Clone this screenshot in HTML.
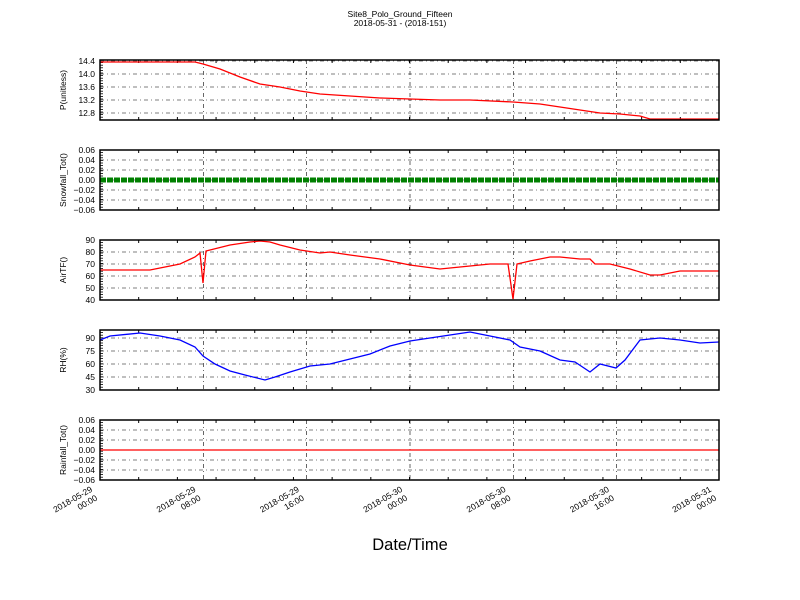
<!DOCTYPE html>
<html><head><meta charset="utf-8"><style>body{margin:0;background:#fff}svg{display:block}text{font-family:"Liberation Sans",sans-serif;fill:#000}</style></head>
<body><svg id="s" width="800" height="600" xmlns="http://www.w3.org/2000/svg">
<text x="400" y="17" font-size="8.5" text-anchor="middle">Site8_Polo_Ground_Fifteen</text>
<text x="400" y="26" font-size="8.5" text-anchor="middle">2018-05-31 - (2018-151)</text>
<text x="410" y="550" font-size="16.5" text-anchor="middle">Date/Time</text>
</svg>
<script>
const s=document.getElementById('s');let h='';
const L=100,R=719,xs=[100,203.3,306.7,410,513.3,616.7,719];
const panels=[
{t:60,b:120,lab:'P(unitless)',ticks:[[61,'14.4'],[74,'14.0'],[87,'13.6'],[100,'13.2'],[113,'12.8']]},
{t:150,b:210,lab:'Snowfall_Tot()',ticks:[[150,'0.06'],[160,'0.04'],[170,'0.02'],[180,'0.00'],[190,'\u22120.02'],[200,'\u22120.04'],[210,'\u22120.06']]},
{t:240,b:300,lab:'AirTF()',ticks:[[240,'90'],[252,'80'],[264,'70'],[276,'60'],[288,'50'],[300,'40']]},
{t:330,b:390,lab:'RH(%)',ticks:[[338,'90'],[351,'75'],[364,'60'],[377,'45'],[390,'30']]},
{t:420,b:480,lab:'Rainfall_Tot()',ticks:[[420,'0.06'],[430,'0.04'],[440,'0.02'],[450,'0.00'],[460,'\u22120.02'],[470,'\u22120.04'],[480,'\u22120.06']]}];
const series=[
{c:'red',w:1.3,p:[[100,62],[195,62],[203,64],[220,69],[240,77],[260,84],[280,87],[300,91],[320,94],[350,96],[380,98],[410,99],[440,100],[470,100],[513,102],[540,104],[560,107],[580,110],[600,113],[620,114],[640,116],[650,119],[719,119]]},
{c:'#008000',w:5,p:[[100,180],[719,180]],d:'6,1'},
{c:'red',w:1.3,p:[[100,270],[150,270],[180,264],[195,257],[200,253],[203,283],[206,251],[230,245],[250,242],[260,241],[270,242],[280,245],[300,250],[320,253],[330,252],[350,255],[380,259],[410,265],[440,269],[470,266],[490,264],[508,264],[513,299],[517,264],[530,261],[550,257],[560,257],[580,259],[590,259],[595,264],[610,264],[630,269],[650,275],[660,275],[680,271],[719,271]]},
{c:'blue',w:1.3,p:[[100,340],[110,336],[140,333],[160,336],[180,340],[195,347],[203,356],[215,364],[230,371],[245,375],[265,380],[275,377],[290,372],[310,366],[330,364],[350,359],[370,354],[390,346],[410,341],[430,338],[450,335],[470,332],[490,336],[510,340],[520,347],[540,351],[560,360],[575,362],[590,372],[600,364],[616,368],[625,360],[640,340],[660,338],[680,340],[700,343],[719,342]]},
{c:'red',w:1.3,p:[[100,450],[719,450]]}];
panels.forEach((P,i)=>{
 P.ticks.forEach(([y,l])=>{h+=`<line x1="${L}" x2="${R}" y1="${y}" y2="${y}" stroke="#000" stroke-width="0.6" stroke-dasharray="4,3,1,3"/>`;
  h+=`<text x="95" y="${y+3}" font-size="8.5" text-anchor="end">${l}</text>`;});
 xs.forEach(x=>{h+=`<line x1="${x}" x2="${x}" y1="${P.t}" y2="${P.b}" stroke="#000" stroke-width="0.6" stroke-dasharray="4,3,1,3"/>`;});
 for(let k=0;k<=48;k+=3){const x=L+k*12.896;h+=`<line x1="${x}" x2="${x}" y1="${P.b}" y2="${P.b-3}" stroke="#000"/><line x1="${x}" x2="${x}" y1="${P.t}" y2="${P.t+3}" stroke="#000"/>`;}
 for(let y=P.t;y<=P.b;y+=2.6){h+=`<line x1="${L}" x2="${L+3}" y1="${y}" y2="${y}" stroke="#000" stroke-width="0.8"/>`;}
 const S=series[i];h+=`<polyline fill="none" stroke="${S.c}" stroke-width="${S.w}" ${S.d?'stroke-dasharray="'+S.d+'"':''} points="${S.p.map(q=>q.join(',')).join(' ')}"/>`;
 h+=`<rect x="${L}" y="${P.t}" width="${R-L}" height="${P.b-P.t}" fill="none" stroke="#000" stroke-width="1.5"/>`;
 const cy=(P.t+P.b)/2;h+=`<text x="66" y="${cy}" font-size="8.5" text-anchor="middle" transform="rotate(-90 66 ${cy})">${P.lab}</text>`;
});
const lab=[['2018-05-29','00:00'],['2018-05-29','08:00'],['2018-05-29','16:00'],['2018-05-30','00:00'],['2018-05-30','08:00'],['2018-05-30','16:00'],['2018-05-31','00:00']];
xs.forEach((x,i)=>{h+=`<g transform="translate(${x-7},${491}) rotate(-30)"><text x="0" y="0" font-size="8.5" text-anchor="end">${lab[i][0]}</text><text x="0" y="10" font-size="8.5" text-anchor="end">${lab[i][1]}</text></g>`;});
s.insertAdjacentHTML('beforeend',h);
</script></body></html>
